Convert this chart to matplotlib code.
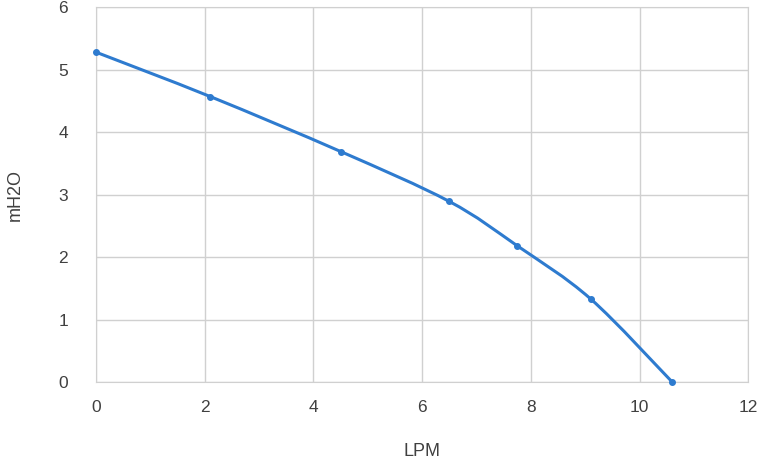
import numpy as np
import matplotlib.pyplot as plt
from matplotlib.path import Path
from matplotlib.patches import PathPatch

lpm = [0, 2.1, 4.5, 6.5, 7.75, 9.1, 10.6]
mh2o = [5.28, 4.57, 3.69, 2.89, 2.18, 1.33, 0.0]
xticks = [0, 2, 4, 6, 8, 10, 12]
yticks = [0, 1, 2, 3, 4, 5, 6]

blue = '#2e7bcf'
grid = '#d0d0d0'
txt = '#404040'

plt.rcParams['font.family'] = ['Liberation Sans', 'DejaVu Sans']

fig = plt.figure(figsize=(7.62, 4.65), dpi=100)
ax = fig.add_axes([0.126, 0.1785, 0.856, 0.806])

# smoothed line, as excel does it: cubic bezier segments through the points
pts = np.column_stack([lpm, mh2o])
ext = np.vstack([pts[0], pts, pts[-1]])
verts = [pts[0]]
codes = [Path.MOVETO]
for i in range(len(pts) - 1):
    p0, p1, p2, p3 = ext[i], ext[i + 1], ext[i + 2], ext[i + 3]
    verts += [p1 + (p2 - p0) / 6, p2 - (p3 - p1) / 6, p2]
    codes += [Path.CURVE4] * 3
ax.add_patch(PathPatch(Path(verts, codes), facecolor='none', edgecolor=blue,
                       lw=2.2, capstyle='round', zorder=3, clip_on=False))
ax.plot(lpm, mh2o, 'o', color=blue, ms=4, zorder=4, clip_on=False)

ax.set_xlim(0, 12)
ax.set_ylim(0, 6)
ax.set_xticks(xticks)
ax.set_yticks(yticks)
ax.grid(True, color=grid, lw=1)
ax.set_axisbelow(True)
for s in ax.spines.values():
    s.set_color(grid)
ax.tick_params(length=0, labelsize=12.5, labelcolor=txt)
ax.tick_params(axis='x', pad=13)
ax.tick_params(axis='y', pad=20)
ax.set_xlabel('LPM', fontsize=13, color=txt, labelpad=20)
ax.set_ylabel('mH2O', fontsize=13, color=txt, labelpad=25)

fig.savefig('out.png', dpi=100)
